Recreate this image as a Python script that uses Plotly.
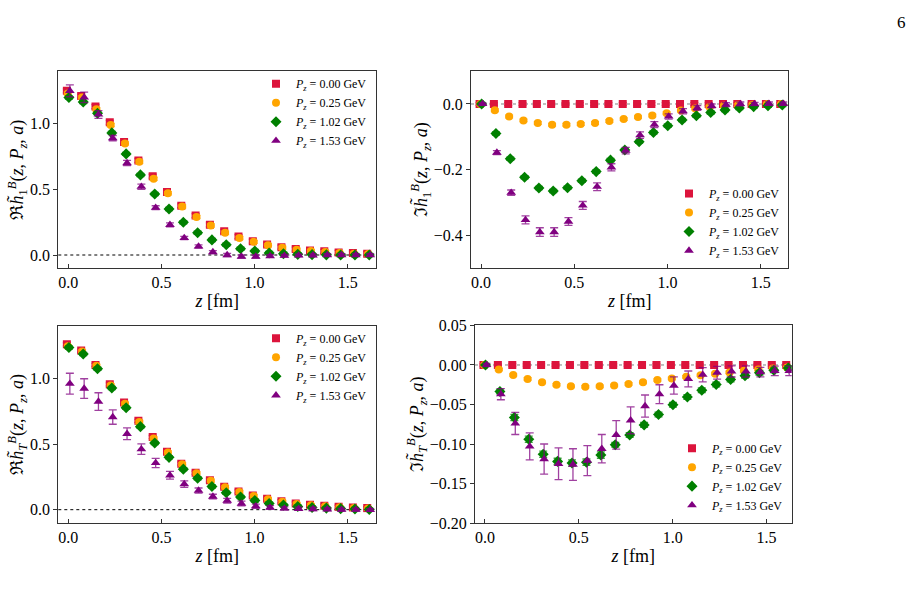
import plotly.graph_objects as go

# ---------------- data ----------------
n_steps = list(range(22))
a_fm = 0.0768
z_base = [n * a_fm for n in n_steps]
series_names = ["0.00", "0.25", "1.02", "1.53"]
x_shift = [-0.008, -0.003, 0.003, 0.008]

# Panel 1: Re h1
re_h1_p0 = [1.25, 1.21, 1.13, 1.01, 0.86, 0.72, 0.60, 0.48, 0.375, 0.30, 0.23, 0.18, 0.14, 0.105, 0.08, 0.06, 0.045, 0.035, 0.028, 0.02, 0.015, 0.01]
re_h1_p1 = [1.23, 1.20, 1.11, 0.99, 0.85, 0.71, 0.58, 0.47, 0.37, 0.29, 0.225, 0.17, 0.13, 0.10, 0.075, 0.055, 0.04, 0.03, 0.022, 0.015, 0.01, 0.008]
re_h1_p2 = [1.20, 1.165, 1.08, 0.93, 0.77, 0.61, 0.465, 0.35, 0.25, 0.17, 0.115, 0.078, 0.048, 0.03, 0.015, 0.01, 0.005, 0.003, 0.001, 0.0, 0.0, 0.0]
re_h1_p3 = [1.25, 1.20, 1.07, 0.89, 0.70, 0.52, 0.36, 0.23, 0.13, 0.065, 0.022, 0.0, -0.012, -0.012, -0.008, -0.005, -0.003, -0.002, 0.0, 0.0, 0.0, 0.0]
re_h1_e0 = [0.015] * 22
re_h1_e1 = [0.012] * 22
re_h1_e2 = [0.012] * 22
re_h1_e3 = [0.045, 0.04, 0.03, 0.02, 0.02, 0.02, 0.015, 0.015, 0.012, 0.012, 0.012, 0.012, 0.012, 0.012, 0.01, 0.01, 0.01, 0.01, 0.01, 0.01, 0.01, 0.01]

# Panel 2: Im h1
im_h1_p0 = [0.0] * 22
im_h1_p1 = [0.0, -0.019, -0.038, -0.05, -0.058, -0.063, -0.063, -0.061, -0.058, -0.052, -0.046, -0.04, -0.035, -0.028, -0.02, -0.014, -0.009, -0.005, -0.003, -0.002, -0.001, 0.0]
im_h1_p2 = [0.0, -0.09, -0.167, -0.223, -0.256, -0.265, -0.255, -0.234, -0.206, -0.171, -0.14, -0.115, -0.087, -0.066, -0.049, -0.036, -0.026, -0.018, -0.012, -0.008, -0.005, -0.003]
im_h1_p3 = [0.0, -0.148, -0.27, -0.353, -0.39, -0.39, -0.358, -0.309, -0.252, -0.193, -0.142, -0.095, -0.063, -0.038, -0.022, -0.012, -0.006, -0.002, 0.0, 0.0, 0.001, 0.001]
im_h1_e0 = [0.004] * 22
im_h1_e1 = [0.004] * 22
im_h1_e2 = [0.005] * 22
im_h1_e3 = [0.003, 0.006, 0.008, 0.012, 0.013, 0.013, 0.012, 0.012, 0.012, 0.011, 0.01, 0.01, 0.009, 0.008, 0.008, 0.007, 0.006, 0.006, 0.006, 0.005, 0.005, 0.005]

# Panel 3: Re hT
re_ht_p0 = [1.265, 1.216, 1.107, 0.958, 0.82, 0.679, 0.555, 0.443, 0.352, 0.282, 0.225, 0.176, 0.139, 0.109, 0.084, 0.064, 0.047, 0.037, 0.03, 0.022, 0.017, 0.012]
re_ht_p1 = [1.25, 1.21, 1.10, 0.95, 0.81, 0.67, 0.545, 0.437, 0.348, 0.278, 0.222, 0.172, 0.135, 0.105, 0.08, 0.06, 0.044, 0.034, 0.026, 0.019, 0.013, 0.009]
re_ht_p2 = [1.24, 1.19, 1.077, 0.93, 0.78, 0.635, 0.51, 0.40, 0.31, 0.24, 0.178, 0.13, 0.097, 0.07, 0.047, 0.035, 0.025, 0.017, 0.012, 0.008, 0.005, 0.002]
re_ht_p3 = [0.963, 0.926, 0.827, 0.708, 0.58, 0.463, 0.357, 0.263, 0.196, 0.146, 0.10, 0.069, 0.047, 0.027, 0.017, 0.01, 0.007, 0.005, 0.003, 0.0, 0.0, -0.002]
re_ht_e0 = [0.012] * 22
re_ht_e1 = [0.012] * 22
re_ht_e2 = [0.012] * 22
re_ht_e3 = [0.08, 0.075, 0.067, 0.055, 0.045, 0.04, 0.035, 0.03, 0.025, 0.02, 0.018, 0.018, 0.018, 0.016, 0.014, 0.012, 0.012, 0.012, 0.01, 0.01, 0.01, 0.01]

# Panel 4: Im hT
im_ht_p0 = [0.0] * 22
im_ht_p1 = [0.0, -0.0057, -0.0127, -0.0176, -0.022, -0.025, -0.027, -0.0275, -0.027, -0.026, -0.024, -0.022, -0.019, -0.017, -0.015, -0.013, -0.011, -0.0094, -0.0074, -0.0057, -0.0045, -0.0033]
im_ht_p2 = [0.0, -0.0336, -0.0664, -0.094, -0.113, -0.122, -0.124, -0.123, -0.114, -0.101, -0.0885, -0.0758, -0.0627, -0.0504, -0.0406, -0.032, -0.0246, -0.0184, -0.0135, -0.0098, -0.0066, -0.0037]
im_ht_p3 = [0.0, -0.037, -0.074, -0.103, -0.119, -0.125, -0.126, -0.121, -0.106, -0.0885, -0.07, -0.052, -0.037, -0.026, -0.0176, -0.0123, -0.0098, -0.0082, -0.0082, -0.009, -0.0074, -0.0074]
im_ht_e0 = [0.0015] * 22
im_ht_e1 = [0.0015] * 22
im_ht_e2 = [0.0, 0.003, 0.004, 0.004, 0.004, 0.004, 0.004, 0.004, 0.004, 0.003, 0.003, 0.003, 0.003, 0.003, 0.003, 0.003, 0.003, 0.003, 0.003, 0.003, 0.003, 0.003]
im_ht_e3 = [0.002, 0.007, 0.014, 0.017, 0.019, 0.02, 0.02, 0.019, 0.018, 0.018, 0.017, 0.014, 0.012, 0.011, 0.01, 0.009, 0.008, 0.007, 0.007, 0.006, 0.006, 0.006]

x_ticks = [0.0, 0.5, 1.0, 1.5]
y_ticks_re = [0.0, 0.5, 1.0]
y_ticks_im1 = [0.0, -0.2, -0.4]
y_ticks_imT = [0.05, 0.0, -0.05, -0.10, -0.15, -0.20]

# ---------------- styles ----------------
colors = ["#DC143C", "#FFA500", "#008000", "#800080"]
err_colors = ["rgba(220,20,60,0.75)", "rgba(255,165,0,0.75)", "rgba(0,128,0,0.75)", "rgba(128,0,128,0.75)"]
symbols = ["square", "circle", "diamond", "triangle-up"]
sizes = [8, 8, 8.5, 8.5]
FONT = "'Times New Roman', 'Liberation Serif', serif"

panels = [
    ([re_h1_p0, re_h1_p1, re_h1_p2, re_h1_p3], [re_h1_e0, re_h1_e1, re_h1_e2, re_h1_e3]),
    ([im_h1_p0, im_h1_p1, im_h1_p2, im_h1_p3], [im_h1_e0, im_h1_e1, im_h1_e2, im_h1_e3]),
    ([re_ht_p0, re_ht_p1, re_ht_p2, re_ht_p3], [re_ht_e0, re_ht_e1, re_ht_e2, re_ht_e3]),
    ([im_ht_p0, im_ht_p1, im_ht_p2, im_ht_p3], [im_ht_e0, im_ht_e1, im_ht_e2, im_ht_e3]),
]

fig = go.Figure()
for p, (ys, es) in enumerate(panels):
    ax = "" if p == 0 else str(p + 1)
    leg = "legend" if p == 0 else "legend" + str(p + 1)
    for s in range(4):
        fig.add_trace(go.Scatter(
            x=[z + x_shift[s] for z in z_base], y=ys[s],
            mode="markers",
            marker=dict(symbol=symbols[s], size=sizes[s], color=colors[s]),
            error_y=dict(type="data", array=es[s], visible=True, color=err_colors[s], thickness=1.3, width=4),
            name="<i>P<sub>z</sub></i> = " + series_names[s] + " GeV",
            xaxis="x" + ax, yaxis="y" + ax, legend=leg,
        ))

W, H = 913, 602
def dom_x(a, b):
    return [a / W, b / W]
def dom_y(top, bot):
    return [1 - bot / H, 1 - top / H]

axis_common = dict(showline=True, mirror=True, linecolor="#333333", linewidth=1,
                   showgrid=False, zeroline=False, ticklen=4, tickcolor="#333333",
                   tickfont=dict(family=FONT, size=16, color="black"))

xdoms = [dom_x(58.3, 376), dom_x(471, 788.3), dom_x(58.3, 376), dom_x(475, 791.7)]
ydoms = [dom_y(65, 267.7), dom_y(65, 267.7), dom_y(327, 530), dom_y(326.7, 530)]
xranges = [[-0.054, 1.652], [-0.054, 1.648], [-0.054, 1.652], [-0.053, 1.634]]
yranges = [[-0.10, 1.40], [-0.5, 0.1], [-0.102, 1.406], [-0.20, 0.05]]
ytickvals = [y_ticks_re, y_ticks_im1, y_ticks_re, y_ticks_imT]
ytickfmt = [".1f", ".1f", ".1f", ".2f"]
ytitles = [
    "ℜ<i>h̃</i><sub>1</sub><sup><i>B</i></sup>(<i>z</i>, <i>P<sub>z</sub></i>, <i>a</i>)",
    "ℑ<i>h̃</i><sub>1</sub><sup><i>B</i></sup>(<i>z</i>, <i>P<sub>z</sub></i>, <i>a</i>)",
    "ℜ<i>h̃</i><sub><i>T</i></sub><sup><i>B</i></sup>(<i>z</i>, <i>P<sub>z</sub></i>, <i>a</i>)",
    "ℑ<i>h̃</i><sub><i>T</i></sub><sup><i>B</i></sup>(<i>z</i>, <i>P<sub>z</sub></i>, <i>a</i>)",
]
ystandoff = [0, 1, 0, 1]

layout = dict(width=W, height=H, margin=dict(l=0, r=0, t=0, b=0),
              paper_bgcolor="white", plot_bgcolor="white",
              font=dict(family=FONT, color="black"), showlegend=True)
for p in range(4):
    ax = "" if p == 0 else str(p + 1)
    layout["xaxis" + ax] = dict(axis_common, domain=xdoms[p], range=xranges[p], anchor="y" + ax,
                                tickvals=x_ticks, tickformat=".1f", ticks="inside",
                                title=dict(text="<i>z</i> [fm]", font=dict(family=FONT, size=18), standoff=4))
    layout["yaxis" + ax] = dict(axis_common, domain=ydoms[p], range=yranges[p], anchor="x" + ax,
                                tickvals=ytickvals[p], tickformat=ytickfmt[p], ticks="outside",
                                title=dict(text=ytitles[p], font=dict(family=FONT, size=18), standoff=ystandoff[p]))

leg_common = dict(font=dict(family=FONT, size=12, color="black"), bgcolor="rgba(0,0,0,0)",
                  borderwidth=0, tracegroupgap=0, itemwidth=30, xanchor="left", yanchor="top")
legend_pos = [(256, 63), (669, 176), (256, 325), (672, 438)]
for p in range(4):
    key = "legend" if p == 0 else "legend" + str(p + 1)
    lx, ly = legend_pos[p]
    layout[key] = dict(leg_common, x=lx / W, y=1 - ly / H)

fig.update_layout(**layout)

# zero reference lines
for p in range(4):
    ax = "" if p == 0 else str(p + 1)
    fig.add_shape(type="line", xref="x" + ax + " domain" if ax else "x domain", yref="y" + ax,
                  x0=0, x1=1, y0=0, y1=0, layer="below",
                  line=dict(color="black" if p in (0, 2) else "gray", width=1, dash="dot"))

fig.add_annotation(text="6", x=901 / W, y=1 - 15 / H, xref="paper", yref="paper",
                   xanchor="center", yanchor="middle",
                   showarrow=False, font=dict(family=FONT, size=17, color="black"))

fig.write_html("out.html")
